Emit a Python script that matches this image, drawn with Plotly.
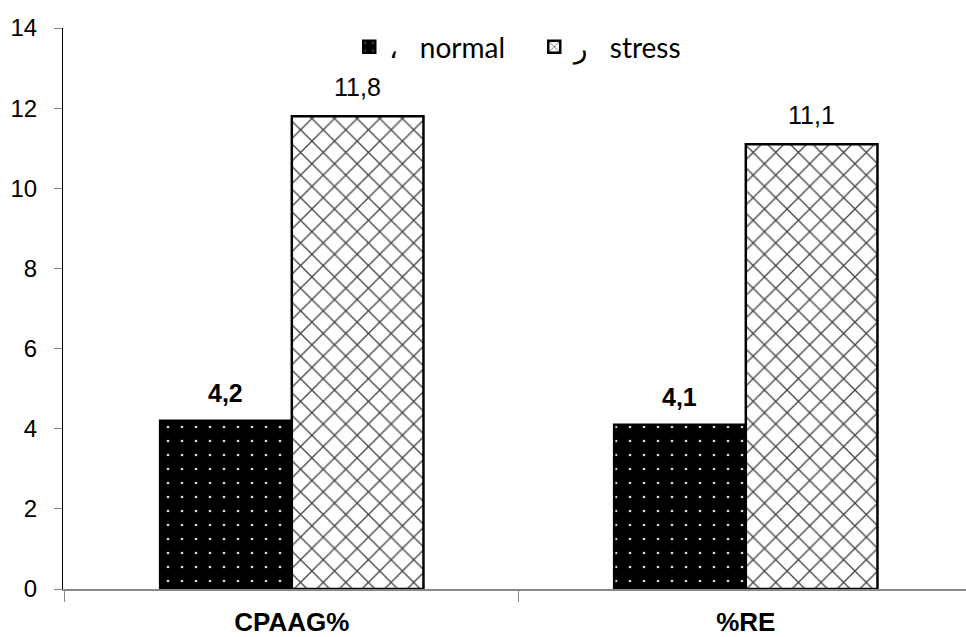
import plotly.graph_objects as go

categories = ["CPAAG%", "%RE"]
normal_vals = [4.2, 4.1]
stress_vals = [11.8, 11.1]
normal_labels = ["4,2", "4,1"]
stress_labels = ["11,8", "11,1"]
y_ticks = [0, 2, 4, 6, 8, 10, 12, 14]
xpos = [0, 1]

LABEL_FONT = "Liberation Sans, Arial, sans-serif"

fig = go.Figure()
fig.add_trace(go.Bar(
    x=xpos, y=normal_vals, name="\u060c   normal",
    marker=dict(color="black", line=dict(color="black", width=2.5),
                pattern=dict(shape=".", bgcolor="black", fgcolor="#d8d8d8",
                             size=14, solidity=0.03, fillmode="replace")),
))
fig.add_trace(go.Bar(
    x=xpos, y=stress_vals, name="\u0631   stress",
    marker=dict(color="white", line=dict(color="black", width=2.5),
                pattern=dict(shape="x", bgcolor="white", fgcolor="#444444",
                             size=16, solidity=0.16, fillmode="replace")),
))

# data labels, placed above each bar (offset by half a bar width in pixels)
for i, xv in enumerate(xpos):
    fig.add_annotation(x=xv, y=normal_vals[i], xref="x", yref="y",
                       text="<b>%s</b>" % normal_labels[i], showarrow=False,
                       yanchor="bottom", xanchor="center", xshift=-66, yshift=12,
                       font=dict(family=LABEL_FONT, size=25, color="black"))
    fig.add_annotation(x=xv, y=stress_vals[i], xref="x", yref="y",
                       text=stress_labels[i], showarrow=False,
                       yanchor="bottom", xanchor="center", xshift=66, yshift=13,
                       font=dict(family=LABEL_FONT, size=25, color="black"))

fig.update_layout(
    width=966, height=637,
    margin=dict(l=63, r=0, t=28, b=45),
    paper_bgcolor="white", plot_bgcolor="white",
    barmode="group", bargap=0.42, bargroupgap=0,
    showlegend=True,
    legend=dict(orientation="h", x=0.317, xanchor="left", y=0.966, yanchor="middle",
                font=dict(family="Lato, Carlito, Calibri", size=28, color="black"),
                bgcolor="rgba(0,0,0,0)", traceorder="normal",
                entrywidth=140, entrywidthmode="pixels"),
    font=dict(family=LABEL_FONT, color="black"),
)
fig.update_xaxes(
    range=[-0.504, 1.485],
    tickvals=xpos, ticktext=categories,
    ticks="outside", ticklen=9, tickcolor="rgba(0,0,0,0)",
    tickfont=dict(family=LABEL_FONT, size=26, color="black", weight="bold"),
    showline=True, linecolor="#888888", linewidth=1.5,
    showgrid=False, zeroline=False,
    minor=dict(tickvals=[-0.5, 0.5, 1.5], ticks="outside", ticklen=11,
               tickcolor="#888888", tickwidth=1, showgrid=False),
)
fig.update_yaxes(
    range=[0, 14], tickvals=y_ticks,
    ticks="outside", ticklen=8, tickcolor="#888888", tickwidth=1,
    ticklabelstandoff=12,
    tickfont=dict(family=LABEL_FONT, size=24, color="black"),
    showline=True, linecolor="black", linewidth=1,
    showgrid=False, zeroline=False,
)

fig.write_html("out.html")
